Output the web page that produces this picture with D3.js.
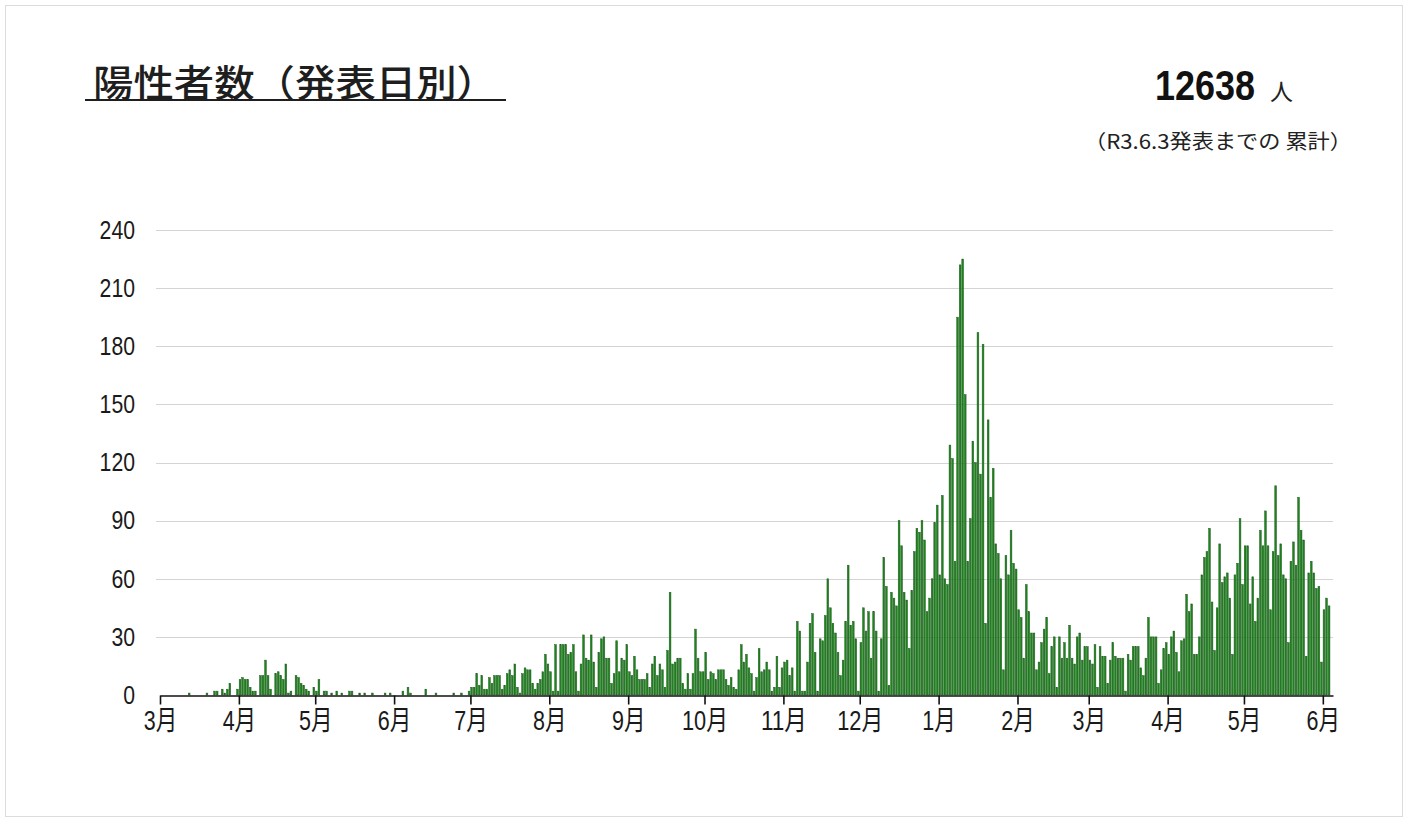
<!DOCTYPE html>
<html lang="ja">
<head>
	<meta charset="utf-8">
	<title>陽性者数（発表日別）</title>
	<script src="https://cdn.jsdelivr.net/npm/d3@7"></script>
	<style>
		body { margin: 0; background: #fff; }
		.num { font-family: "Liberation Sans Narrow", "Liberation Sans", "Noto Sans CJK JP", sans-serif; }
		.jp { font-family: "Noto Sans CJK JP", sans-serif; }
	</style>
</head>
<body>
<div id="chart"></div>
<script>

	// daily counts by announcement date, first value = 2020-03-01
	var startDate = new Date(2020, 2, 1);
	var c2020_03 = [0,0,0,0,0,0,0,0,0,0,0,1,0,0,0,0,0,0,1,0,0,2,2,0,3,1,3,6,0,0,3];
	var c2020_04 = [8,9,8,8,4,2,2,0,10,10,18,10,3,0,11,12,10,8,16,1,2,0,10,9,6,5,3,2,0,4];
	var c2020_05 = [2,8,0,2,2,0,1,0,2,0,1,0,0,2,2,0,0,1,0,1,0,0,1,0,0,0,0,1,0,1,0];
	var c2020_06 = [0,0,0,2,0,4,1,0,0,0,0,0,3,0,0,0,1,0,0,0,0,0,0,1,0,0,1,0,0,2];
	var c2020_07 = [4,4,11,5,10,3,3,9,6,10,10,10,3,5,11,13,10,16,4,1,11,14,13,13,6,3,6,8,12,21,16];
	var c2020_08 = [12,2,26,2,26,26,26,21,22,26,12,2,16,31,19,18,31,17,4,22,29,30,19,19,6,11,28,12,19,18,26];
	var c2020_09 = [12,10,20,13,8,8,8,11,4,16,20,10,16,13,4,23,53,16,17,19,19,6,3,11,3,11,34,19,12,12];
	var c2020_10 = [22,8,12,11,8,13,13,13,8,5,9,4,3,13,26,17,21,14,11,2,9,24,12,13,17,13,2,4,20,4,14];
	var c2020_11 = [17,18,10,14,2,38,33,2,2,17,37,42,22,2,29,28,41,60,45,37,32,22,10,18,38,67,36,38,29,2];
	var c2020_12 = [27,45,33,43,19,43,33,2,29,71,56,5,53,50,46,90,77,53,49,24,54,74,86,84,90,80,43,50,60,89,98];
	var c2021_01 = [62,103,60,57,129,122,69,195,222,225,155,69,91,131,120,187,114,181,37,142,102,117,78,73,60,13,72,62,85,68,65];
	var c2021_02 = [44,40,19,57,43,32,32,13,17,27,34,40,11,25,30,4,30,19,27,19,36,19,16,30,32,18,25,25];
	var c2021_03 = [18,16,26,4,25,20,20,6,18,27,20,19,19,19,2,21,18,25,25,25,14,10,19,40,30,30,30,6,13,24,27];
	var c2021_04 = [21,30,33,22,12,28,29,52,43,47,21,21,30,62,71,74,86,48,23,45,78,58,61,63,50,21,62,68,91,57];
	var c2021_05 = [77,77,47,61,38,50,85,77,95,77,44,74,108,72,78,62,60,27,69,79,67,102,85,80,20,63,69,63,55,56,17];
	var c2021_06 = [44,50,46];

	var monthLabels = ["3月","4月","5月","6月","7月","8月","9月","10月","11月","12月","1月","2月","3月","4月","5月","6月"];
	var yTicks = [0, 30, 60, 90, 120, 150, 180, 210, 240];

	var titleText = "陽性者数（発表日別）";
	var totalText = "12638";
	var totalUnit = "人";
	var noteText = "（R3.6.3発表までの 累計）";

	var counts = [].concat(c2020_03, c2020_04, c2020_05, c2020_06, c2020_07, c2020_08,
		c2020_09, c2020_10, c2020_11, c2020_12, c2021_01, c2021_02, c2021_03, c2021_04,
		c2021_05, c2021_06);
	var dataset = counts.map(function(v, i){
		return {date: d3.timeDay.offset(startDate, i), value: v};
	});

	var width = 1410, height = 821;
	var margin = {top: 230, right: 77, bottom: 125, left: 160};

	var svg = d3.select("#chart")
		.append("svg")
		.attr("width", width)
		.attr("height", height);

	// light frame round the picture
	svg.append("rect")
		.attr("x", 5.5).attr("y", 5.5)
		.attr("width", 1397).attr("height", 811)
		.attr("fill", "none")
		.attr("stroke", "#dcdcdc");

	var endDate = d3.timeDay.offset(startDate, counts.length + 1);
	var xScale = d3.scaleTime()
		.domain([startDate, endDate])
		.range([margin.left, width - margin.right]);

	var yScale = d3.scaleLinear()
		.domain([0, 240])
		.range([height - margin.bottom - 1, margin.top]);

	// gridlines
	svg.append("g")
		.selectAll("line")
		.data(yTicks.slice(1))
		.enter()
			.append("line")
			.attr("x1", margin.left - 4)
			.attr("x2", width - margin.right)
			.attr("y1", function(d){ return Math.round(yScale(d)) + 0.5; })
			.attr("y2", function(d){ return Math.round(yScale(d)) + 0.5; })
			.attr("stroke", "#d4d4d4")
			.attr("stroke-width", 1.2);

	// y labels (narrow digits like the original)
	var yAxis = d3.axisLeft(yScale)
		.tickValues(yTicks)
		.tickSize(0)
		.tickPadding(25);

	svg.append("g")
		.attr("class", "num")
		.attr("transform", "translate(" + margin.left + ",0)")
		.call(yAxis)
		.call(function(g){ g.select(".domain").remove(); })
		.selectAll("text")
			.attr("font-size", 26)
			.attr("fill", "#1a1a1a")
			.attr("textLength", function(d){ return String(d).length * 11.8; })
			.attr("lengthAdjust", "spacingAndGlyphs");

	// bars
	svg.append("g")
		.selectAll("rect")
		.data(dataset)
		.enter()
			.append("rect")
			.attr("x", function(d){ return xScale(d.date) + 0.3; })
			.attr("y", function(d){ return yScale(d.value); })
			.attr("width", function(d){
				return xScale(d3.timeDay.offset(d.date, 1)) - xScale(d.date) - 0.8;
			})
			.attr("height", function(d){ return yScale(0) - yScale(d.value); })
			.attr("fill", "#188718")
			.attr("stroke", "#285a28")
			.attr("stroke-width", 0.5);

	// x axis with month ticks
	var monthStarts = d3.timeMonth.range(startDate, d3.timeDay.offset(startDate, counts.length));
	var xAxis = d3.axisBottom(xScale)
		.tickValues(monthStarts)
		.tickSize(9)
		.tickSizeOuter(0)
		.tickPadding(6)
		.tickFormat(function(d, i){ return monthLabels[i]; });

	var xg = svg.append("g")
		.attr("transform", "translate(0," + (yScale(0) + 0.5) + ")")
		.call(xAxis);
	xg.select(".domain").attr("stroke", "#111").attr("stroke-width", 1.6);
	xg.selectAll(".tick line").attr("stroke", "#111").attr("stroke-width", 1.6);
	xg.selectAll("text")
		.attr("class", "num")
		.attr("font-size", 27)
		.attr("fill", "#1a1a1a")
		.attr("textLength", function(d, i){ return (monthLabels[i].length - 1) * 12.5 + 21; })
		.attr("lengthAdjust", "spacingAndGlyphs");

	// title with underline
	svg.append("text")
		.attr("class", "jp")
		.attr("x", 93)
		.attr("y", 97)
		.attr("font-size", 37)
		.attr("font-weight", 500)
		.attr("fill", "#1e1e1e")
		.attr("textLength", 404)
		.attr("lengthAdjust", "spacingAndGlyphs")
		.text(titleText);
	svg.append("line")
		.attr("x1", 85).attr("x2", 506)
		.attr("y1", 100).attr("y2", 100)
		.attr("stroke", "#1e1e1e")
		.attr("stroke-width", 2);

	// cumulative total
	svg.append("text")
		.attr("class", "num")
		.attr("x", 1155)
		.attr("y", 100)
		.attr("font-size", 42)
		.attr("font-weight", "bold")
		.attr("fill", "#111")
		.attr("textLength", 100)
		.attr("lengthAdjust", "spacingAndGlyphs")
		.text(totalText);
	svg.append("text")
		.attr("class", "jp")
		.attr("x", 1270)
		.attr("y", 100)
		.attr("font-size", 23)
		.attr("fill", "#222")
		.text(totalUnit);
	svg.append("text")
		.attr("class", "jp")
		.attr("x", 1084)
		.attr("y", 149)
		.attr("font-size", 20)
		.attr("fill", "#222")
		.attr("textLength", 268)
		.attr("lengthAdjust", "spacingAndGlyphs")
		.text(noteText);

</script>
</body>
</html>
